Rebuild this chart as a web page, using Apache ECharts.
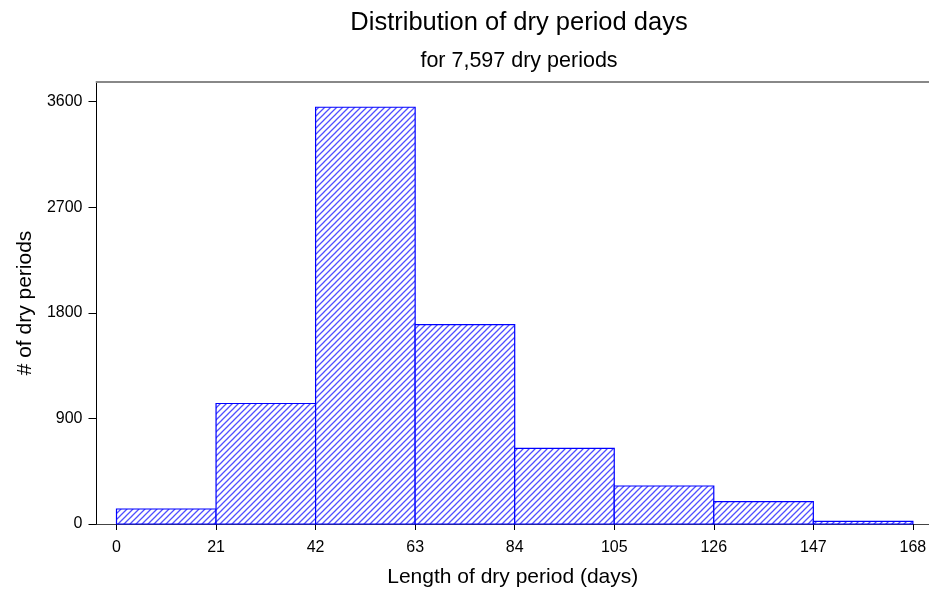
<!DOCTYPE html>
<html>
<head>
<meta charset="utf-8">
<script src="https://cdn.jsdelivr.net/npm/echarts@6/dist/echarts.min.js"></script>
<style>
html,body{margin:0;padding:0;background:#fff;}
#chart{width:929px;height:597px;}
</style>
</head>
<body>
<div id="chart"></div>
<script>
// Bin edges (days) and counts
var binStart = [0, 21, 42, 63, 84, 105, 126, 147];
var binEnd   = [21, 42, 63, 84, 105, 126, 147, 168];
var counts   = [128, 1027, 3552, 1700, 644, 324, 190, 22];
var xTicks   = [0, 21, 42, 63, 84, 105, 126, 147, 168];
var yTicks   = [0, 900, 1800, 2700, 3600];

var titleText = 'Distribution of dry period days';
var subtitleText = 'for 7,597 dry periods';
var xName = 'Length of dry period (days)';
var yName = '# of dry periods';

// hatch pattern
var pat = document.createElement('canvas');
pat.width = 6; pat.height = 6;
var pc = pat.getContext('2d');
pc.fillStyle = '#ffffff';
pc.fillRect(0, 0, 6, 6);
pc.strokeStyle = '#5050ff';
pc.lineWidth = 1.3;
pc.beginPath();
pc.moveTo(-1, 7); pc.lineTo(7, -1);
pc.moveTo(-7, 7); pc.lineTo(1, -1);
pc.moveTo(5, 7); pc.lineTo(13, -1);
pc.stroke();

var data = binStart.map(function (s, i) { return [s, binEnd[i], counts[i]]; });

var chart = echarts.init(document.getElementById('chart'), null, {renderer: 'canvas'});
var font = 'Liberation Sans, Arial, sans-serif';
chart.setOption({
  animation: false,
  backgroundColor: '#ffffff',
  grid: {left: 96.5, right: 0, top: 82, bottom: 73, containLabel: false, outerBoundsMode: 'none'},
  title: [
    {text: titleText, left: 514, top: 5, textAlign: 'center',
     textStyle: {fontFamily: font, fontSize: 25.5, fontWeight: 'normal', color: '#000'}},
    {text: subtitleText, left: 514, top: 45, textAlign: 'center',
     textStyle: {fontFamily: font, fontSize: 21.5, fontWeight: 'normal', color: '#000'}}
  ],
  xAxis: [{
    type: 'value', min: -4.22, max: 171.4,
    name: xName, nameLocation: 'middle', nameGap: 43,
    nameTextStyle: {fontFamily: font, fontSize: 21, color: '#000'},
    splitLine: {show: false},
    axisLine: {show: true, onZero: false, lineStyle: {color: '#444', width: 1}},
    axisTick: {show: true, customValues: xTicks, length: 6, lineStyle: {color: '#000'}},
    axisLabel: {customValues: xTicks, margin: 16, fontFamily: font, fontSize: 16, color: '#000',
      showMinLabel: true, showMaxLabel: true, formatter: function (v) { return String(v); }}
  }, {
    type: 'value', position: 'top', min: -4.22, max: 171.4,
    splitLine: {show: false},
    axisLine: {show: true, onZero: false, lineStyle: {color: '#888', width: 2}},
    axisTick: {show: false}, axisLabel: {show: false}
  }],
  yAxis: {
    type: 'value', min: 0, max: 3767,
    name: yName, nameLocation: 'middle', nameGap: 61, nameRotate: 90,
    nameTextStyle: {fontFamily: font, fontSize: 21, color: '#000'},
    splitLine: {show: false},
    axisLine: {show: true, onZero: false, lineStyle: {color: '#000', width: 1}},
    axisTick: {show: true, customValues: yTicks, length: 8, lineStyle: {color: '#000'}},
    axisLabel: {customValues: yTicks, margin: 14, fontFamily: font, fontSize: 16, color: '#000',
      formatter: function (v) { return String(v); }}
  },
  series: [{
    type: 'custom',
    xAxisIndex: 0,
    data: data,
    renderItem: function (params, api) {
      var p0 = api.coord([api.value(0), 0]);
      var p1 = api.coord([api.value(1), api.value(2)]);
      return {
        type: 'rect',
        shape: {x: p0[0], y: p1[1], width: p1[0] - p0[0], height: p0[1] - p1[1]},
        style: {fill: {image: pat, repeat: 'repeat'}, stroke: '#0000ff', lineWidth: 1.2}
      };
    }
  }]
});
</script>
</body>
</html>
